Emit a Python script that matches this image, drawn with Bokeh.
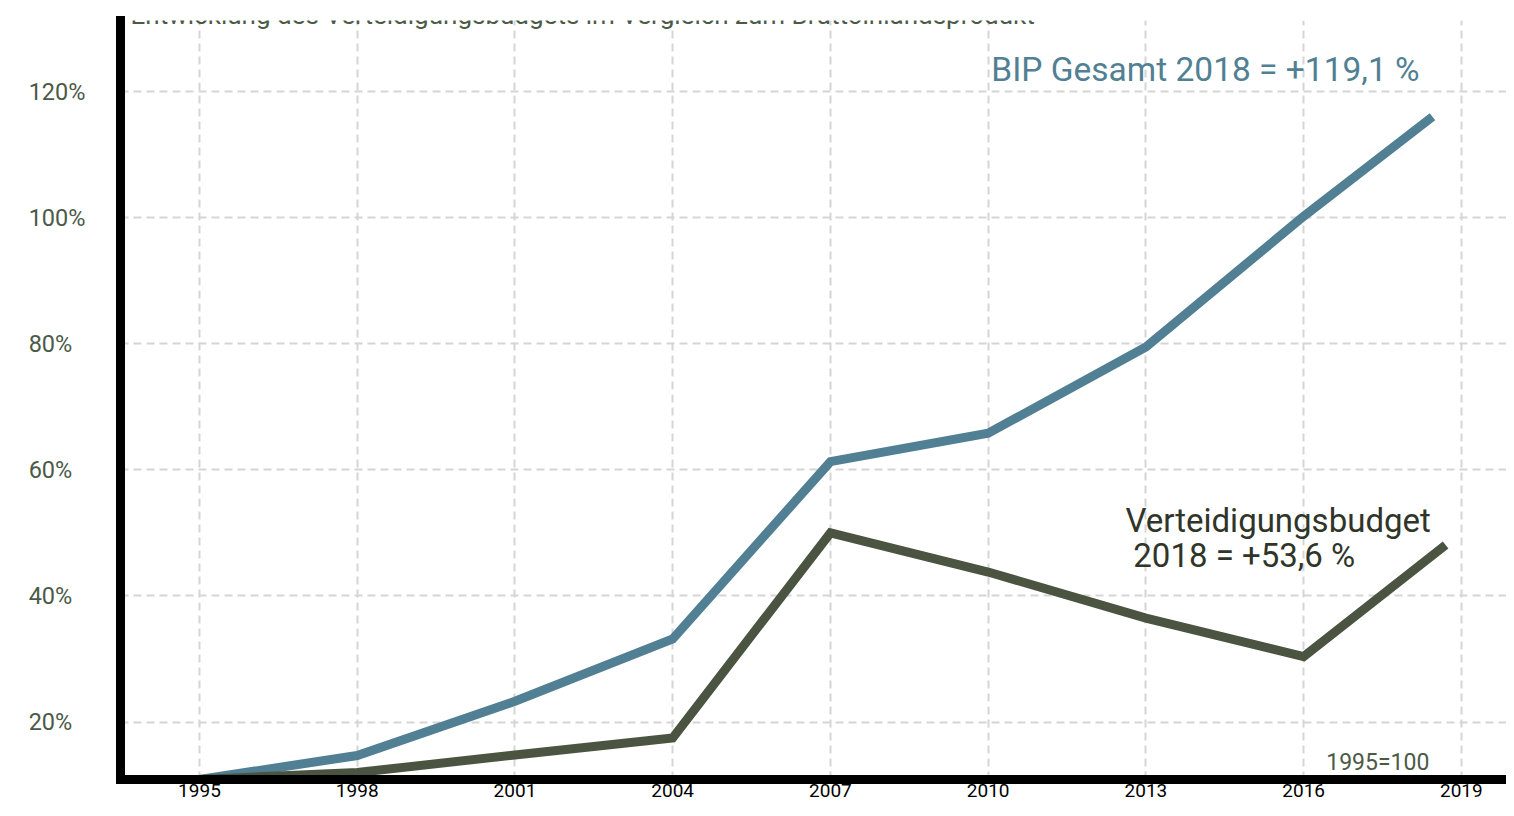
from bokeh.plotting import figure
from bokeh.models import FixedTicker, Label, Range1d
from bokeh.embed import file_html
from bokeh.resources import INLINE

# ---------------- data ----------------
years = [1995, 1998, 2001, 2004, 2007, 2010, 2013, 2016]
bip_x = years + [2018.45]
bip_values = [10.9, 14.7, 23.3, 33.2, 61.3, 65.8, 79.5, 100.2, 116.0]
def_x = years + [2018.7]
def_values = [10.9, 12.0, 14.8, 17.5, 50.0, 43.8, 36.5, 30.4, 48.1]

x_ticks = [1995, 1998, 2001, 2004, 2007, 2010, 2013, 2016, 2019]
y_ticks = [20, 40, 60, 80, 100, 120]
y_tick_labels = ["20%", "40%", "60%", "80%", "100%", "120%"]

title_text = "Entwicklung des Verteidigungsbudgets im Vergleich zum Bruttoinlandsprodukt"
bip_label = "BIP Gesamt 2018 = +119,1 %"
def_label_1 = "Verteidigungsbudget"
def_label_2 = "2018 = +53,6 %"
base_label = "1995=100"

# ---------------- style ----------------
FONT = "Roboto"
BIP_COLOR = "#517f93"
DEF_COLOR = "#4a5440"
DEF_TEXT = "#2f3528"
OLIVE_TEXT = "#4b5a47"
GRID = "#d5d5d5"

p = figure(
    frame_width=1386, frame_height=759,
    x_range=Range1d(1993.498, 2019.858), y_range=Range1d(10.9, 131.26),
    output_backend="svg", toolbar_location=None,
    min_border_left=120, min_border_right=0, min_border_top=20, min_border_bottom=29,
)
p.outline_line_color = None
p.background_fill_color = "white"
p.border_fill_color = "white"

# grids
p.xgrid.ticker = FixedTicker(ticks=x_ticks)
p.ygrid.ticker = FixedTicker(ticks=y_ticks)
for g in (p.xgrid, p.ygrid):
    g.grid_line_color = GRID
    g.grid_line_width = 2
    g.grid_line_dash = "8 5"

# axes
for ax in (p.xaxis, p.yaxis):
    ax.axis_line_color = "black"
    ax.axis_line_width = 9
    ax.axis_line_cap = "square"
    ax.major_tick_line_color = None
    ax.minor_tick_line_color = None
    ax.major_tick_in = 0
    ax.major_tick_out = 0
    ax.major_label_text_font = FONT

p.xaxis.ticker = FixedTicker(ticks=x_ticks)
p.xaxis.major_label_text_font_size = "19px"
p.xaxis.major_label_text_color = "black"
p.xaxis.major_label_standoff = 4

p.yaxis.ticker = FixedTicker(ticks=y_ticks)
pad = {"20%": "\u2007", "40%": "\u2007", "60%": "\u2007", "80%": "\u2007"}
p.yaxis.major_label_overrides = {t: lab + pad.get(lab, "") for t, lab in zip(y_ticks, y_tick_labels)}
p.yaxis.major_label_text_font_size = "23.5px"
p.yaxis.major_label_text_color = OLIVE_TEXT
p.yaxis.major_label_standoff = 35

# lines
p.line(bip_x, bip_values, line_color=BIP_COLOR, line_width=9, line_join="miter", line_cap="butt")
p.line(def_x, def_values, line_color=DEF_COLOR, line_width=9, line_join="miter", line_cap="butt")

# annotations
p.add_layout(Label(x=2010.06, y=123.55, text=bip_label, text_font=FONT, text_font_size="33.5px",
                   text_color=BIP_COLOR, text_baseline="alphabetic"))
p.add_layout(Label(x=2012.61, y=52.0, text=def_label_1, text_font=FONT, text_font_size="33px",
                   text_color=DEF_TEXT, text_baseline="alphabetic"))
p.add_layout(Label(x=2012.76, y=46.5, text=def_label_2, text_font=FONT, text_font_size="33px",
                   text_color=DEF_TEXT, text_baseline="alphabetic"))
p.add_layout(Label(x=2016.43, y=13.57, text=base_label, text_font=FONT, text_font_size="23px",
                   text_color=OLIVE_TEXT, text_baseline="alphabetic"))
p.add_layout(Label(x=1993.69, y=132.1, text=title_text, text_font=FONT, text_font_size="26px",
                   text_color=OLIVE_TEXT, text_baseline="alphabetic"))

open("out.html", "w").write(file_html(p, INLINE))
